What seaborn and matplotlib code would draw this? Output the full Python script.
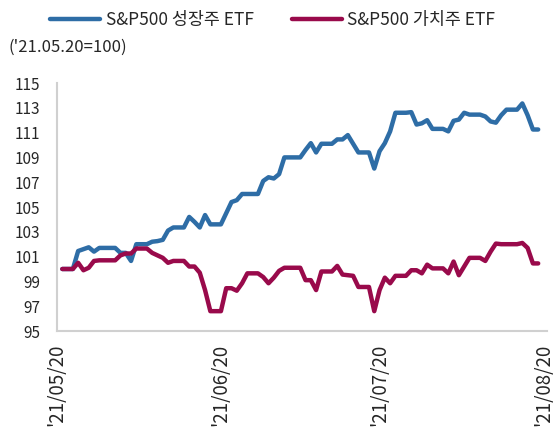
import pandas as pd
import seaborn as sns
import matplotlib.pyplot as plt

# calendar days from '21/05/21 to '21/08/19 (weekends carry the Friday value)
start_date = '2021-05-21'
end_date = '2021-08-19'

growth = [
    100.0, 100.0, 100.0,
    101.45, 101.6, 101.75, 101.4, 101.7, 101.7, 101.7,
    101.7, 101.3, 101.3, 100.65, 102.0, 102.0, 102.0,
    102.2, 102.25, 102.35, 103.1, 103.35, 103.35, 103.35,
    104.2, 103.8, 103.35, 104.35, 103.6, 103.6, 103.6,
    104.5, 105.4, 105.55, 106.05, 106.05, 106.05, 106.05,
    107.1, 107.4, 107.3, 107.65, 109.0, 109.0, 109.0,
    109.0, 109.6, 110.15, 109.4, 110.1, 110.1, 110.1,
    110.45, 110.45, 110.8, 110.1, 109.4, 109.4, 109.4,
    108.1, 109.5, 110.15, 111.1, 112.6, 112.6, 112.6,
    112.65, 111.65, 111.75, 112.0, 111.3, 111.3, 111.3,
    111.1, 111.95, 112.05, 112.6, 112.45, 112.45, 112.45,
    112.3, 111.9, 111.8, 112.4, 112.85, 112.85, 112.85,
    113.35, 112.4, 111.25, 111.25,
]

value = [
    100.0, 100.0, 100.0,
    100.5, 99.9, 100.1, 100.65, 100.7, 100.7, 100.7,
    100.7, 101.1, 101.25, 101.25, 101.65, 101.65, 101.65,
    101.3, 101.1, 100.9, 100.5, 100.65, 100.65, 100.65,
    100.2, 100.2, 99.7, 98.3, 96.6, 96.6, 96.6,
    98.45, 98.45, 98.25, 98.85, 99.65, 99.65, 99.65,
    99.35, 98.85, 99.3, 99.85, 100.1, 100.1, 100.1,
    100.1, 99.1, 99.1, 98.3, 99.8, 99.8, 99.8,
    100.25, 99.55, 99.5, 99.45, 98.55, 98.55, 98.55,
    96.6, 98.3, 99.3, 98.85, 99.45, 99.45, 99.45,
    99.9, 99.9, 99.65, 100.35, 100.05, 100.05, 100.05,
    99.65, 100.6, 99.5, 100.2, 100.9, 100.9, 100.9,
    100.65, 101.4, 102.05, 102.0, 102.0, 102.0, 102.0,
    102.1, 101.7, 100.45, 100.45,
]

series_names = ['S&P500 성장주 ETF', 'S&P500 가치주 ETF']
colors = ['#2E6DA6', '#990A4B']
tick_dates = ['2021-05-20', '2021-06-20', '2021-07-20', '2021-08-20']
tick_labels = ["'21/05/20", "'21/06/20", "'21/07/20", "'21/08/20"]
y_ticks = list(range(95, 116, 2))

dates = pd.date_range(start_date, end_date, freq='D')
df = pd.concat([
    pd.DataFrame({'date': dates, 'value': growth, 'series': series_names[0]}),
    pd.DataFrame({'date': dates, 'value': value, 'series': series_names[1]}),
])

sns.set_style('white')
plt.rcParams['font.family'] = ['Noto Sans CJK KR', 'DejaVu Sans']

fig = plt.figure(figsize=(5.55, 4.28), dpi=100)
ax = fig.add_axes([57 / 555, 1 - 331 / 428, 490 / 555, 248 / 428])

sns.lineplot(data=df, x='date', y='value', hue='series', palette=colors,
             linewidth=3.2, ax=ax, legend=True)

ax.set_xlim(pd.Timestamp('2021-05-20'), pd.Timestamp('2021-08-20') + pd.Timedelta(hours=16))
ax.set_ylim(95, 115)
ax.set_yticks(y_ticks)
ax.set_xticks(pd.to_datetime(tick_dates))
ax.set_xticklabels(tick_labels, rotation=90, fontsize=13.5)
ax.tick_params(axis='y', labelsize=11, length=5, width=1.2, color='#d0d0d0', pad=7)
ax.tick_params(axis='x', length=5, width=1.2, color='#d0d0d0', pad=4)
ax.set_xlabel('')
ax.set_ylabel('')

for side in ['top', 'right']:
    ax.spines[side].set_visible(False)
for side in ['left', 'bottom']:
    ax.spines[side].set_color('#d0d0d0')
    ax.spines[side].set_linewidth(1.5)

handles, labels = ax.get_legend_handles_labels()
ax.legend_.remove()
fig.legend(handles, labels, loc='center left', bbox_to_anchor=(50 / 555, 1 - 20 / 428), ncol=2,
           frameon=False, fontsize=12.5, handlelength=2.9, handletextpad=0.3,
           columnspacing=2.2, borderpad=0, borderaxespad=0)

fig.text(8 / 555, 1 - 47 / 428, "('21.05.20=100)", fontsize=12, va='center', ha='left')

fig.savefig('out.png', dpi=100)
